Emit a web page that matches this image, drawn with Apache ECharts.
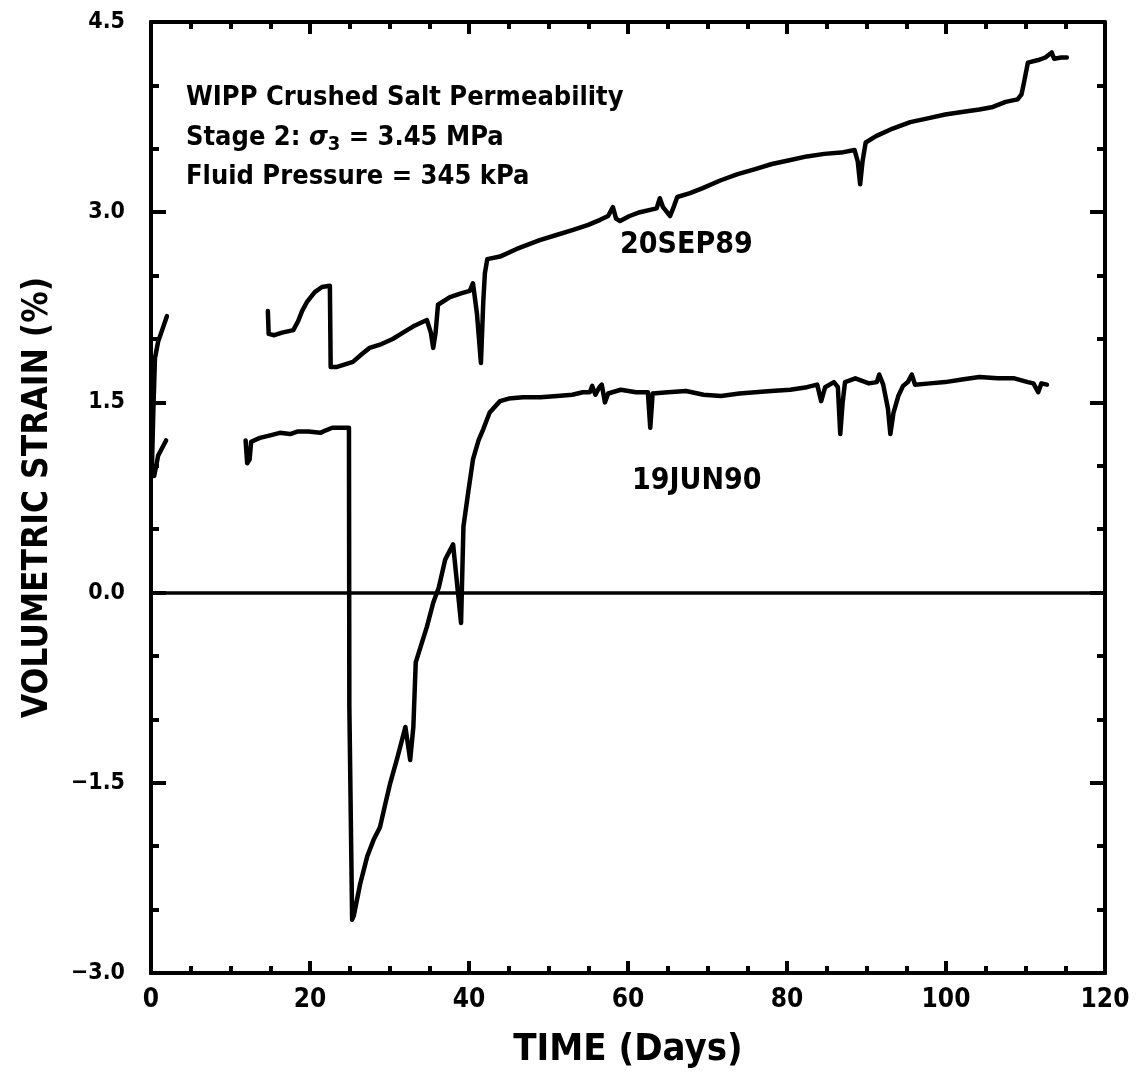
<!DOCTYPE html>
<html>
<head>
<meta charset="utf-8">
<script src="https://cdn.jsdelivr.net/npm/echarts@6/dist/echarts.min.js"></script>
<style>
  html, body { margin: 0; padding: 0; background: #fff; }
  #chart { width: 1139px; height: 1080px; }
</style>
</head>
<body>
<div id="chart"></div>
<script>
// Volumetric strain (%) against time (days) for two test runs.
// Each run is split into an early piece and a main record, as [day, strain] pairs.

const sep89Early = [[0.1,0.95],[0.3,1.45],[0.5,1.85],[0.9,1.98],[1.4,2.07],[2.0,2.18]];
const sep89Main = [
  [14.7,2.22],[14.8,2.04],[15.5,2.03],[16.5,2.05],[17.9,2.07],[18.5,2.14],[19.0,2.22],[19.6,2.29],
  [20.6,2.37],[21.5,2.41],[22.5,2.42],[22.6,1.78],[23.4,1.78],[24.4,1.80],[25.4,1.82],[26.5,1.88],
  [27.5,1.93],[29.0,1.96],[30.4,2.00],[31.7,2.05],[33.0,2.10],[34.7,2.15],[35.2,2.05],[35.5,1.93],
  [35.8,2.05],[36.1,2.27],[37.6,2.33],[39.0,2.36],[40.1,2.38],[40.5,2.44],[41.0,2.20],[41.5,1.81],
  [41.8,2.30],[42.0,2.52],[42.3,2.63],[43.9,2.65],[46.0,2.71],[48.9,2.78],[51.0,2.82],[53.1,2.86],
  [55.0,2.90],[56.5,2.94],[57.5,2.97],[58.1,3.04],[58.5,2.95],[59.0,2.93],[60.2,2.97],[61.5,3.00],
  [63.6,3.03],[64.0,3.11],[64.4,3.04],[65.3,2.97],[65.8,3.05],[66.2,3.12],[67.8,3.15],[69.4,3.19],
  [71.6,3.25],[73.8,3.30],[76.0,3.34],[78.1,3.38],[80.3,3.41],[82.5,3.44],[84.7,3.46],[86.8,3.47],
  [88.5,3.49],[88.9,3.40],[89.2,3.22],[89.5,3.40],[89.9,3.55],[91.2,3.60],[93.3,3.66],[95.5,3.71],
  [97.7,3.74],[99.9,3.77],[102.0,3.79],[104.2,3.81],[105.9,3.83],[107.5,3.87],[109.0,3.89],[109.5,3.93],
  [109.8,4.02],[110.3,4.18],[111.6,4.20],[112.5,4.22],[113.3,4.26],[113.6,4.21],[114.5,4.22],[115.2,4.22]
];

const jun90Early = [[0.1,0.95],[0.4,0.92],[0.9,1.08],[1.4,1.14],[1.9,1.20]];
const jun90Main = [
  [11.9,1.20],[12.1,1.02],[12.4,1.05],[12.6,1.19],[13.7,1.22],[15.0,1.24],[16.2,1.26],[17.5,1.25],
  [18.4,1.27],[19.8,1.27],[21.3,1.26],[22.0,1.28],[22.8,1.30],[24.0,1.30],[24.9,1.30],[24.95,-0.90],
  [25.3,-2.58],[25.5,-2.55],[26.3,-2.30],[27.2,-2.08],[28.0,-1.95],[28.8,-1.85],[29.5,-1.66],[30.1,-1.50],
  [31.0,-1.30],[32.0,-1.06],[32.6,-1.32],[33.0,-1.06],[33.3,-0.55],[33.8,-0.45],[34.7,-0.27],[35.5,-0.08],
  [36.2,0.04],[37.0,0.26],[38.0,0.38],[39.0,-0.24],[39.3,0.52],[39.9,0.79],[40.5,1.05],[41.2,1.20],
  [41.8,1.29],[42.6,1.42],[43.9,1.51],[45.0,1.53],[46.8,1.54],[49.0,1.54],[51.1,1.55],[53.0,1.56],
  [54.3,1.58],[55.2,1.58],[55.5,1.63],[55.9,1.56],[56.4,1.62],[56.7,1.64],[57.1,1.50],[57.5,1.57],
  [59.1,1.60],[61.0,1.58],[62.5,1.58],[62.8,1.30],[63.1,1.57],[65.0,1.58],[67.3,1.59],[69.5,1.56],
  [71.7,1.55],[74.0,1.57],[76.0,1.58],[78.0,1.59],[80.4,1.60],[82.5,1.62],[83.8,1.64],[84.3,1.51],
  [84.8,1.62],[85.9,1.66],[86.4,1.62],[86.7,1.25],[87.0,1.50],[87.3,1.66],[88.6,1.69],[90.3,1.65],
  [91.3,1.66],[91.6,1.72],[92.1,1.64],[92.7,1.45],[93.0,1.25],[93.4,1.42],[94.0,1.55],[94.6,1.63],
  [95.2,1.66],[95.7,1.72],[96.1,1.64],[98.0,1.65],[99.9,1.66],[102.0,1.68],[104.2,1.70],[106.5,1.69],
  [108.6,1.69],[110.3,1.66],[111.0,1.65],[111.6,1.58],[112.0,1.65],[112.7,1.64]
];

// Axis ranges and tick steps
const timeTicks = [0, 20, 40, 60, 80, 100, 120];
const strainTicks = [-3.0, -1.5, 0.0, 1.5, 3.0, 4.5];
const baseline = 0.0;

// Text drawn on the plot
const noteLines = ['WIPP Crushed Salt Permeability', 'Stage 2: ', ' = 3.45 MPa', 'Fluid Pressure = 345 kPa'];
const runNames = ['20SEP89', '19JUN90'];

const FONT = '"DejaVu Sans Condensed", "DejaVu Sans", sans-serif';
const INK = '#000';
const frame = { left: 151, right: 34, top: 22, bottom: 107, containLabel: false };

function range(ticks, step) {
  return { type: 'value', min: ticks[0], max: ticks[ticks.length - 1], interval: step,
           splitLine: { show: false }, minorSplitLine: { show: false } };
}

// Grid 0: labelled axes (no ticks). Grid 1: same rectangle, inward tick marks on all four sides.
function labelledAxis(pos, ticks, step, nameText, nameGap, nameSize, fmt, margin, size) {
  return Object.assign(range(ticks, step), {
    gridIndex: 0, position: pos,
    axisLine: { show: true, onZero: false, lineStyle: { color: INK, width: 4 } },
    axisTick: { show: false }, minorTick: { show: false },
    name: nameText, nameLocation: 'middle', nameGap: nameGap,
    nameTextStyle: { fontFamily: FONT, fontWeight: 'bold', fontSize: nameSize, color: INK },
    axisLabel: { show: true, margin: margin, fontFamily: FONT, fontWeight: 'bold', fontSize: size, color: INK, formatter: fmt }
  });
}
function tickAxis(pos, ticks, step, minorSplit, majorLen, minorLen) {
  return Object.assign(range(ticks, step), {
    gridIndex: 1, position: pos,
    axisLine: { show: true, onZero: false, lineStyle: { color: INK, width: 4 } },
    axisTick: { show: true, inside: true, length: majorLen, lineStyle: { color: INK, width: 4 } },
    minorTick: { show: true, splitNumber: minorSplit, length: minorLen, lineStyle: { color: INK, width: 4 } },
    axisLabel: { show: false }
  });
}

const fmtX = v => String(v);
const fmtY = v => (v < 0 ? '\u2212' : '') + Math.abs(v).toFixed(1);

const lineStyle = { color: INK, width: 4.5, join: 'round', cap: 'round' };
function trace(points, extra) {
  return Object.assign({
    type: 'line', data: points, showSymbol: false, symbol: 'none',
    xAxisIndex: 0, yAxisIndex: 0,
    lineStyle: lineStyle, animation: false, silent: true, z: 3
  }, extra || {});
}

const chart = echarts.init(document.getElementById('chart'), null, { renderer: 'canvas' });
chart.setOption({
  backgroundColor: '#fff',
  animation: false,
  grid: [Object.assign({}, frame), Object.assign({}, frame)],
  xAxis: [
    labelledAxis('bottom', timeTicks, 20, 'TIME (Days)', 58, 38, fmtX, 14, 26),
    tickAxis('bottom', timeTicks, 20, 4, 12, 7),
    tickAxis('top', timeTicks, 20, 4, 12, 7)
  ],
  yAxis: [
    labelledAxis('left', strainTicks, 1.5, 'VOLUMETRIC STRAIN (%)', 96, 35, fmtY, 26, 23),
    tickAxis('left', strainTicks, 1.5, 3, 15, 8),
    tickAxis('right', strainTicks, 1.5, 3, 15, 8)
  ],
  series: [
    trace(sep89Early),
    trace(sep89Main),
    trace(jun90Early),
    trace(jun90Main, {
      markLine: {
        silent: true, symbol: ['none', 'none'], animation: false,
        label: { show: false },
        lineStyle: { color: INK, width: 3.5, type: 'solid' },
        data: [{ yAxis: baseline }]
      }
    })
  ],
  graphic: [
    { type: 'text', left: 186, top: 84, style: { text: noteLines[0], font: 'bold 27px ' + FONT, fill: INK } },
    { type: 'text', left: 186, top: 124, style: {
        text: '{a|' + noteLines[1] + '}{s|\u03C3}{sub|3}{a|' + noteLines[2] + '}',
        rich: {
          a: { font: 'bold 27px ' + FONT, fill: INK },
          s: { font: 'italic bold 27px ' + FONT, fill: INK },
          sub: { font: 'bold 20px ' + FONT, fill: INK, padding: [14, 0, 0, 0] }
        }
    } },
    { type: 'text', left: 186, top: 163, style: { text: noteLines[3], font: 'bold 27px ' + FONT, fill: INK } },
    { type: 'text', left: 620, top: 230, style: { text: runNames[0], font: 'bold 30px ' + FONT, fill: INK } },
    { type: 'text', left: 632, top: 466, style: { text: runNames[1], font: 'bold 30px ' + FONT, fill: INK } }
  ]
});
</script>
</body>
</html>
